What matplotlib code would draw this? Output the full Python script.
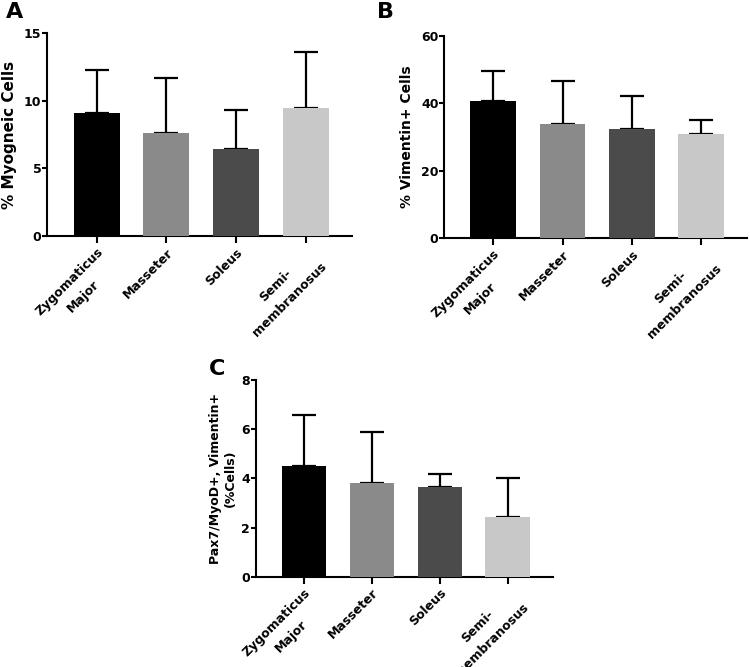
import matplotlib

matplotlib.use("Agg")
import matplotlib.pyplot as plt  # noqa: E402
from matplotlib.transforms import ScaledTranslation  # noqa: E402

plt.rcParams["font.family"] = ["DejaVu Sans"]
plt.rcParams["font.weight"] = "bold"

MUSCLES = ["Zygomaticus\nMajor", "Masseter", "Soleus", "Semi-\nmembranosus"]
BAR_COLORS = ["#000000", "#8a8a8a", "#4b4b4b", "#c8c8c8"]

# panel A: % myogenic cells
MYO_MEAN = [9.1, 7.6, 6.4, 9.45]
MYO_ERR = [3.2, 4.1, 2.95, 4.15]
# panel B: % vimentin+ cells
VIM_MEAN = [40.7, 34.0, 32.5, 30.8]
VIM_ERR = [8.9, 12.7, 9.7, 4.4]
# panel C: pax7/myod+, vimentin+ cells
PAX_MEAN = [4.5, 3.8, 3.67, 2.42]
PAX_ERR = [2.1, 2.08, 0.5, 1.58]

PANELS = [
    ("A", [0.0627, 0.646, 0.4063, 0.3045], MYO_MEAN, MYO_ERR, 15, [0, 5, 10, 15],
     "% Myogneic Cells", 11, 5),
    ("B", [0.592, 0.643, 0.404, 0.303], VIM_MEAN, VIM_ERR, 60, [0, 20, 40, 60],
     "% Vimentin+ Cells", 10, 5),
    ("C", [0.341, 0.1354, 0.396, 0.2946], PAX_MEAN, PAX_ERR, 8, [0, 2, 4, 6, 8],
     "Pax7/MyoD+, Vimentin+\n(%Cells)", 9, 3),
]
LETTER_POS = {"A": (0.008, 0.997), "B": (0.503, 0.997), "C": (0.279, 0.462)}


def draw(fig, letter, rect, mean, err, ymax, yticks, ylabel, ysize, ypad):
    ax = fig.add_axes(rect)
    x = list(range(len(mean)))
    ax.bar(x, mean, width=0.66, color=BAR_COLORS, zorder=3)
    ax.errorbar(x, mean, yerr=[[0] * len(err), err], fmt="none", ecolor="black",
                elinewidth=1.6, capsize=8.5, capthick=1.6, zorder=2)
    ax.set_xlim(-0.71, 3.66)
    ax.set_ylim(0, ymax)
    ax.set_yticks(yticks)
    ax.set_xticks(x)
    ax.set_xticklabels(MUSCLES, rotation=45, ha="right", va="top",
                       rotation_mode="anchor", multialignment="center",
                       linespacing=1.7, fontsize=9, fontweight="bold")
    shift = ScaledTranslation(-6.5 / 72, 0, fig.dpi_scale_trans)
    for lab in ax.get_xticklabels():
        lab.set_transform(lab.get_transform() + shift)
    for side in ("top", "right"):
        ax.spines[side].set_visible(False)
    for side in ("left", "bottom"):
        ax.spines[side].set_linewidth(1.5)
    ax.tick_params(axis="y", length=3.5, width=1.5, labelsize=9, pad=0.5)
    ax.tick_params(axis="x", length=5, width=1.5, pad=2)
    for lab in ax.get_yticklabels():
        lab.set_fontweight("bold")
    ax.set_ylabel(ylabel, fontsize=ysize, fontweight="bold", labelpad=ypad)
    lx, ly = LETTER_POS[letter]
    fig.text(lx, ly, letter, fontsize=16, fontweight="bold", va="top", ha="left")


fig = plt.figure(figsize=(7.5, 6.67), dpi=100)
for panel in PANELS:
    draw(fig, *panel)
fig.savefig("out.png", facecolor="white")
